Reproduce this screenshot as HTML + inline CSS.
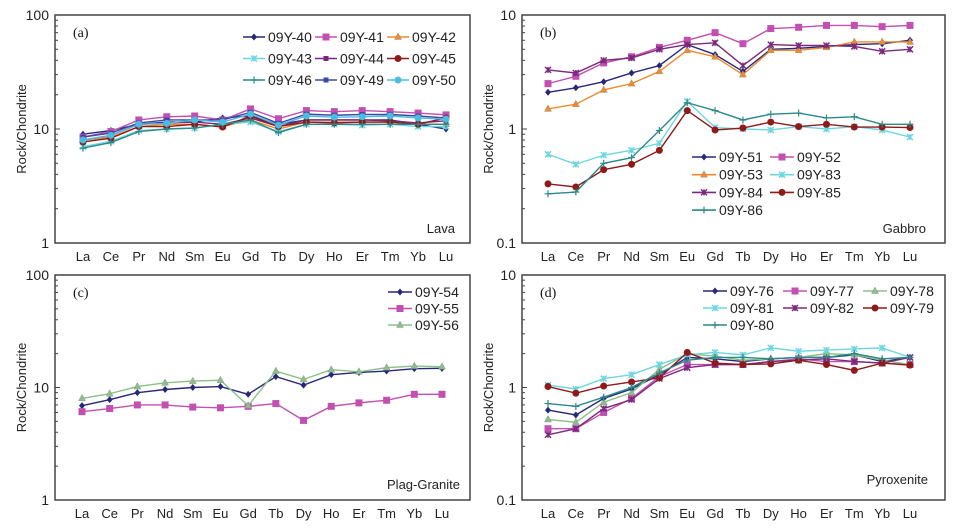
<!DOCTYPE html>
<html><head><meta charset="utf-8"><style>
html,body{margin:0;padding:0;background:#fff;}
svg{display:block;font-family:"Liberation Sans",sans-serif;}
</style></head><body>
<svg id="chart" width="955" height="528" viewBox="0 0 955 528" xmlns="http://www.w3.org/2000/svg"></svg>
<script>
const categories=["La","Ce","Pr","Nd","Sm","Eu","Gd","Tb","Dy","Ho","Er","Tm","Yb","Lu"];
// Panel a (Lava)
const aNames=["09Y-40","09Y-41","09Y-42","09Y-43","09Y-44","09Y-45","09Y-46","09Y-49","09Y-50"];
const a40=[9.0,9.7,11,11.5,11.5,12.5,13,11,12,12,12,12,11,10];
const a41=[8.5,9.5,12,12.8,13,12,15,12.3,14.5,14.2,14.5,14.2,13.8,13.3];
const a42=[8,8.5,10.5,11,11,10.5,12,10,11.5,11.5,11.5,11.5,11,11];
const a43=[7,7.8,9.7,10,10.2,11,11.5,9.5,11,11,10.8,11,10.5,10.5];
const a44=[8,8.8,11,11.3,11.5,11,12.5,10.5,12,12,12,11.8,11.3,11.8];
const a45=[7.7,8.3,10.5,10.5,11,10.4,13,10.5,11.5,11.3,11.5,11.5,11,12.5];
const a46=[6.8,7.6,9.5,10,10.2,11,12,9.3,11,11,11,11,11,11];
const a49=[8.5,9.2,11.3,12,12,12,14,11.2,13.5,13.2,13.4,13.4,13,12.5];
const a50=[8,8.8,11,11.2,12,11.5,13.5,10.8,13,12.7,12.8,13,12.5,12.2];
// Panel b (Gabbro)
const bNames=["09Y-51","09Y-52","09Y-53","09Y-83","09Y-84","09Y-85","09Y-86"];
const b51=[2.1,2.3,2.6,3.1,3.6,5.5,4.5,3.2,5.0,5.1,5.3,5.5,5.6,6.0];
const b52=[2.5,2.9,3.8,4.3,5.2,6.0,7.0,5.6,7.6,7.8,8.1,8.1,7.9,8.1];
const b53=[1.5,1.65,2.2,2.5,3.2,4.9,4.3,3.0,4.9,4.9,5.2,5.8,5.8,5.8];
const b83=[0.6,0.49,0.59,0.65,0.75,1.75,1.03,1.0,0.98,1.05,1.0,1.05,0.98,0.85];
const b84=[3.3,3.1,4.0,4.2,5.0,5.5,5.7,3.6,5.5,5.4,5.4,5.3,4.8,5.0];
const b85=[0.33,0.31,0.44,0.49,0.65,1.45,0.98,1.02,1.15,1.05,1.1,1.04,1.04,1.03];
const b86=[0.27,0.28,0.5,0.56,0.97,1.7,1.45,1.2,1.35,1.38,1.25,1.28,1.1,1.1];
// Panel c (Plag-Granite)
const cNames=["09Y-54","09Y-55","09Y-56"];
const c54=[6.9,7.8,9.0,9.6,10.0,10.2,8.7,12.5,10.5,13,13.6,14,14.7,14.8];
const c55=[6.1,6.5,7.0,7.0,6.7,6.6,6.8,7.2,5.1,6.8,7.3,7.7,8.7,8.7];
const c56=[8.0,8.8,10.2,11,11.4,11.6,6.9,14,11.8,14.4,13.8,15,15.5,15.3];
// Panel d (Pyroxenite)
const dNames=["09Y-76","09Y-77","09Y-78","09Y-81","09Y-82","09Y-79","09Y-80"];
const d76=[0.63,0.57,0.8,0.97,1.3,1.85,1.8,1.7,1.8,1.85,1.85,1.95,1.7,1.85];
const d77=[0.43,0.43,0.6,0.8,1.25,1.6,1.6,1.6,1.7,1.8,1.7,1.7,1.65,1.6];
const d78=[0.52,0.49,0.74,0.9,1.45,2.0,1.9,1.75,1.8,1.85,2.0,1.95,1.75,1.6];
const d81=[1.05,0.97,1.2,1.3,1.6,1.95,2.05,1.95,2.25,2.1,2.15,2.2,2.25,1.85];
const d82=[0.38,0.43,0.65,0.78,1.2,1.5,1.6,1.6,1.7,1.75,1.8,1.7,1.65,1.85];
const d79=[1.02,0.89,1.03,1.12,1.22,2.05,1.65,1.6,1.62,1.75,1.6,1.42,1.65,1.58];
const d80=[0.72,0.68,0.82,1.0,1.35,1.75,1.85,1.85,1.8,1.85,1.85,2.0,1.8,1.85];

const NS="http://www.w3.org/2000/svg";
const svg=document.getElementById('chart');
function mk(tag,attrs,parent){const e=document.createElementNS(NS,tag);for(const k in attrs)e.setAttribute(k,attrs[k]);(parent||svg).appendChild(e);return e;}

const C={navy:"#27287a",pink:"#c250b0",orange:"#f08a2c",cyan:"#6fd6e0",purple:"#7a2a7e",red:"#8e1a1a",teal:"#2b8a88",blue:"#3a4aa8",lblue:"#48bde0",green:"#8cc08a"};

function marker(g,type,x,y,col){
  let m;
  if(type==="diamond") m=mk('polygon',{points:`${x},${y-3.5} ${x+3},${y} ${x},${y+3.5} ${x-3},${y}`,fill:col},g);
  else if(type==="square") m=mk('rect',{x:x-3.5,y:y-3.5,width:7,height:7,fill:col},g);
  else if(type==="triangle") m=mk('polygon',{points:`${x},${y-4} ${x+3.5},${y+2.5} ${x-3.5},${y+2.5}`,fill:col,stroke:"#888","stroke-width":0.4},g);
  else if(type==="circle") m=mk('circle',{cx:x,cy:y,r:3.5,fill:col},g);
  else if(type==="smallsq") m=mk('rect',{x:x-2.5,y:y-2.5,width:5,height:5,fill:col},g);
  else if(type==="x") m=mk('path',{d:`M${x-3},${y-3}L${x+3},${y+3}M${x+3},${y-3}L${x-3},${y+3}M${x},${y-3}L${x},${y+3}`,stroke:col,"stroke-width":1.5},g);
  else if(type==="plus") m=mk('path',{d:`M${x-3.5},${y}L${x+3.5},${y}M${x},${y-3.5}L${x},${y+3.5}`,stroke:col,"stroke-width":1.2},g);
  
  
}

function panel(p){
  const g=mk('g',{});
  
  
  const decs=Math.log10(p.ymax/p.ymin);
  const yS=v=>p.bottom-(p.bottom-p.top)*Math.log10(v/p.ymin)/decs;
  const xS=i=>p.x0+(p.x1-p.x0)*i/(categories.length-1);
  const frame=mk('rect',{x:p.left,y:p.top,width:p.right-p.left,height:p.bottom-p.top,fill:"#fff",stroke:"#444","stroke-width":1.5},g);
  
  // y ticks
  for(let d=0;d<=Math.round(decs);d++){
    const base=p.ymin*Math.pow(10,d);
    const yy=yS(base);
    mk('line',{x1:p.left,x2:p.left+5,y1:yy,y2:yy,stroke:"#444"},g);
    const t=mk('text',{x:p.left-6,y:yy+5,"text-anchor":"end","font-size":14,fill:"#222"},g);
    t.textContent=String(Math.round(base*10)/10);
    
    if(d<Math.round(decs)) for(const k of [2,3,4,5,6,7,8,9]){const y2=yS(base*k);mk('line',{x1:p.left,x2:p.left+3,y1:y2,y2:y2,stroke:"#444"},g);}
  }
  categories.forEach((c,i)=>{
    const t=mk('text',{x:xS(i),y:p.bottom+18,"text-anchor":"middle","font-size":13,fill:"#222"},g);
    t.textContent=c;
  });
  const yt=mk('text',{x:0,y:0,"text-anchor":"middle","font-size":13,fill:"#222",transform:`translate(${p.left-29},${(p.top+p.bottom)/2}) rotate(-90)`},g);
  yt.textContent="Rock/Chondrite";
  const lb=mk('text',{x:p.left+18,y:p.top+22,"font-size":14,"font-family":"Liberation Serif,serif",fill:"#111"},g);
  lb.textContent=p.label;
  const rt=mk('text',{x:p.rockX,y:p.rockY,"text-anchor":"end","font-size":13,fill:"#222"},g);
  rt.textContent=p.rock;
  p.series.forEach(s=>{
    const sg=mk('g',{},g);
    
    
    const pts=s.vals.map((v,i)=>xS(i)+","+yS(v)).join(" ");
    mk('polyline',{points:pts,fill:"none",stroke:s.col,"stroke-width":1.4},sg);
    s.vals.forEach((v,i)=>marker(sg,s.m,xS(i),yS(v),s.col));
  });
  // legend
  const lg=mk('g',{},g);
  
  p.series.forEach((s,i)=>{
    const col=i%p.lcols,row=Math.floor(i/p.lcols);
    const x=p.lx+col*p.lcw,y=p.ly+row*p.lrh;
    const e=mk('g',{},lg);
    
    mk('line',{x1:x,x2:x+p.lline,y1:y,y2:y,stroke:s.col,"stroke-width":1.6},e);
    marker(e,s.m,x+p.lline/2,y,s.col);
    const t=mk('text',{x:x+p.lline+3,y:y+5,"font-size":14,fill:"#222"},e);
    t.textContent=s.name;
  });
}

function S(names,arrs,cols,ms){return names.map((n,i)=>({name:n,vals:arrs[i],col:cols[i],m:ms[i]}));}

panel({id:"lava",label:"(a)",rock:"Lava",rockX:455,rockY:233,left:55,right:470,top:15,bottom:243,ymin:1,ymax:100,x0:83,x1:446,
  series:S(aNames,[a40,a41,a42,a43,a44,a45,a46,a49,a50],[C.navy,C.pink,C.orange,C.cyan,C.purple,C.red,C.teal,C.blue,C.lblue],["diamond","square","triangle","x","smallsq","circle","plus","smallsq","circle"]),
  lx:243,ly:37,lcols:3,lcw:72,lrh:21.5,lline:22});
panel({id:"gabbro",label:"(b)",rock:"Gabbro",rockX:926,rockY:233,left:522,right:945,top:15,bottom:243,ymin:0.1,ymax:10,x0:548,x1:910,
  series:S(bNames,[b51,b52,b53,b83,b84,b85,b86],[C.navy,C.pink,C.orange,C.cyan,C.purple,C.red,C.teal],["diamond","square","triangle","x","x","circle","plus"]),
  lx:692,ly:157,lcols:2,lcw:78,lrh:17.7,lline:24});
panel({id:"plag-granite",label:"(c)",rock:"Plag-Granite",rockX:460,rockY:489,left:55,right:470,top:275,bottom:500,ymin:1,ymax:100,x0:82,x1:442,
  series:S(cNames,[c54,c55,c56],[C.navy,C.pink,C.green],["diamond","square","triangle"]),
  lx:388,ly:292,lcols:1,lcw:0,lrh:16.5,lline:24});
panel({id:"pyroxenite",label:"(d)",rock:"Pyroxenite",rockX:928,rockY:484,left:522,right:945,top:275,bottom:500,ymin:0.1,ymax:10,x0:548,x1:910,
  series:S(dNames,[d76,d77,d78,d81,d82,d79,d80],[C.navy,C.pink,C.green,C.cyan,C.purple,C.red,C.teal],["diamond","square","triangle","x","x","circle","plus"]),
  lx:703,ly:291,lcols:3,lcw:80,lrh:17,lline:24});
</script>
</body></html>
